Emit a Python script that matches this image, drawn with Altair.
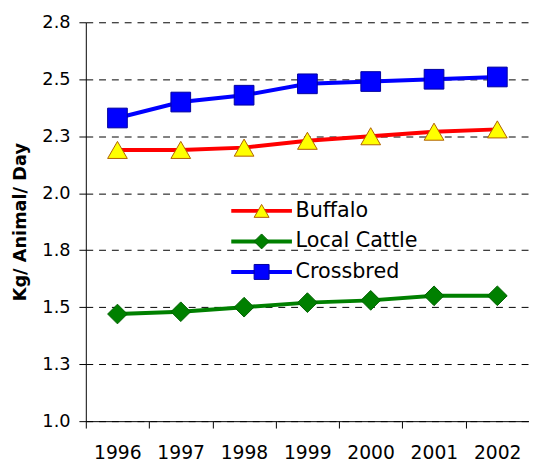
import altair as alt
import pandas as pd

years = [1996, 1997, 1998, 1999, 2000, 2001, 2002]
series_names = ["Buffalo", "Local Cattle", "Crossbred"]
buffalo = [2.19, 2.19, 2.20, 2.23, 2.25, 2.27, 2.28]
local_cattle = [1.47, 1.48, 1.50, 1.52, 1.53, 1.55, 1.55]
crossbred = [2.33, 2.40, 2.43, 2.48, 2.49, 2.50, 2.51]

y_ticks = [1.0, 1.25, 1.5, 1.75, 2.0, 2.25, 2.5, 2.75]
x_boundaries = [1995.5, 1996.5, 1997.5, 1998.5, 1999.5, 2000.5, 2001.5, 2002.5]

line_colors = ["#FF0000", "#008000", "#0000FF"]
marker_fills = ["#FFFF00", "#008000", "#0000FF"]
marker_strokes = ["#B06000", "#006000", "#0000A0"]
marker_shapes = ["triangle-up", "diamond", "square"]
marker_keys = ["m_" + s for s in series_names]

rows = []
for name, vals in zip(series_names, [buffalo, local_cattle, crossbred]):
    for yr, v in zip(years, vals):
        rows.append({"year": yr, "value": v, "series": name})
df = pd.DataFrame(rows)

FONT = "DejaVu Sans"

x_enc = alt.X(
    "year:Q",
    scale=alt.Scale(domain=[1995.5, 2002.5], nice=False, zero=False),
    axis=alt.Axis(
        values=x_boundaries,
        labelExpr="datum.value > 2002 ? '' : format(datum.value + 0.5, 'd')",
        labelOffset=32,
        labelFlush=False,
        labelOverlap=False,
        labelBound=False,
        title=None,
        grid=False,
        tickSize=7,
        labelPadding=16,
        labelFontSize=19,
    ),
)
y_enc = alt.Y(
    "value:Q",
    scale=alt.Scale(domain=[1.0, 2.75], nice=False, zero=False),
    axis=alt.Axis(
        values=y_ticks,
        format=".1f",
        title="Kg/ Animal/ Day",
        grid=True,
        gridDash=[7, 6],
        gridColor="black",
        gridWidth=1,
        tickSize=7,
        labelPadding=9,
        labelFontSize=18,
        titlePadding=13,
        titleFont=FONT,
        titleFontSize=18,
        titleFontWeight="bold",
        titleColor="black",
    ),
)

line_legend = alt.Legend(
    orient="none", legendX=168, legendY=181, title=None,
    symbolType="M-4.4,0H4.4", symbolSize=196, symbolStrokeWidth=4,
    labelFont=FONT, labelFontSize=21, labelOffset=24, labelColor="black",
    rowPadding=9, padding=0,
)
point_legend = alt.Legend(
    orient="none", legendX=168, legendY=181, title=None,
    symbolSize=230, symbolStrokeWidth=1,
    labelFont=FONT, labelFontSize=21, labelOffset=24, labelExpr="''",
    rowPadding=9, padding=0,
)

base = alt.Chart(df).encode(x=x_enc, y=y_enc)

lines = base.mark_line(strokeWidth=4).encode(
    color=alt.Color("series:N",
                    scale=alt.Scale(domain=series_names, range=line_colors),
                    legend=line_legend)
)

points = base.transform_calculate(marker="'m_' + datum.series").mark_point(
    filled=True, opacity=1, strokeWidth=1, size=400
).encode(
    fill=alt.Fill("marker:N", scale=alt.Scale(domain=marker_keys, range=marker_fills), legend=point_legend),
    shape=alt.Shape("marker:N", scale=alt.Scale(domain=marker_keys, range=marker_shapes), legend=point_legend),
    stroke=alt.Stroke("marker:N", scale=alt.Scale(domain=marker_keys, range=marker_strokes), legend=point_legend),
)

chart = alt.layer(lines, points).properties(
    width=450, height=405,
    background="white",
    autosize=alt.AutoSizeParams(type="none"),
    padding={"left": 79, "top": 11, "right": 0, "bottom": 39},
).configure_view(stroke=None).configure_axis(
    domainColor="black", domainWidth=1, tickColor="black",
    labelFont=FONT, labelColor="black",
)

chart.save("out.html", embed_options={"renderer": "svg", "actions": False})
